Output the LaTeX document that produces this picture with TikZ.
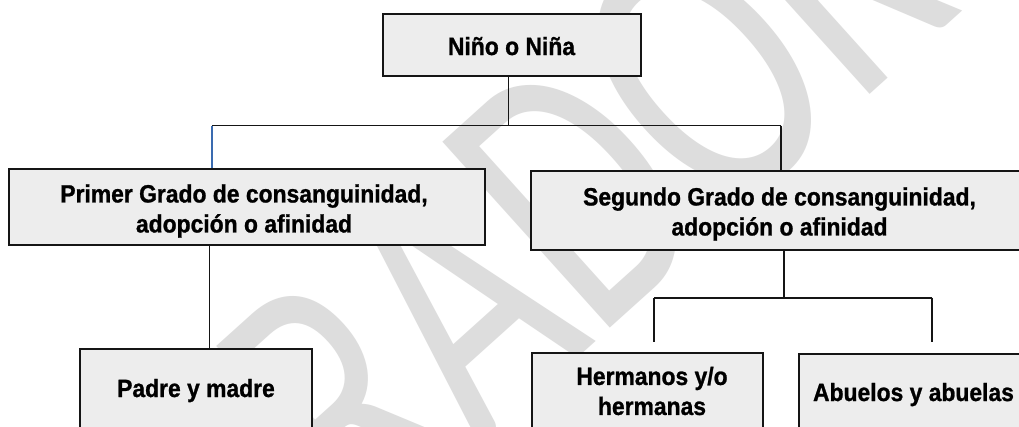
\documentclass[tikz,border=0pt]{standalone}
\usepackage{fontspec}
\setmainfont{Liberation Sans}[BoldFeatures={FakeStretch=0.915, FakeBold=1}]
\newfontfamily\wmfont{Carlito}[FakeStretch=0.7]
\definecolor{boxfill}{HTML}{EDEDED}
\definecolor{boxline}{HTML}{151515}
\definecolor{wmgray}{HTML}{DDDDDD}
\definecolor{bluelink}{HTML}{3A6BB0}
\tikzset{
  box/.style={draw=boxline, fill=boxfill, line width=1.8pt, rectangle, inner sep=0pt},
  lbl/.style={font=\fontsize{25}{30}\selectfont\bfseries, align=center, inner sep=0pt, text=black},
  conn/.style={draw=boxline, line width=1.7pt},
  connthin/.style={draw=boxline, line width=1pt},
}
\begin{document}
\begin{tikzpicture}[x=1pt,y=-1pt]
\useasboundingbox (0,0) rectangle (1019,426);
\clip (0,0) rectangle (1019,426);
\fill[white] (0,0) rectangle (1019,426);
% watermark
\node[text=wmgray, font=\wmfont\fontsize{390}{390}\selectfont, rotate=42, inner sep=0pt] (wm) at (406.5,343.7) {BORRADOR};
% junctions
\coordinate (j1) at (508.5,125.5);
\coordinate (jl) at (212,125.5);
\coordinate (jr) at (781,125.5);
\coordinate (pv) at (209.5,300);
\coordinate (j2) at (784,297.7);
\coordinate (hl) at (654,297.7);
\coordinate (hr) at (932,297.7);
\coordinate (hle) at (654,341.7);
\coordinate (hre) at (932,341.7);
% boxes
\node[box, minimum width=258pt, minimum height=62pt] (nino) at (512,45) {};
\node[box, minimum width=476pt, minimum height=76pt] (primer) at (247,207) {};
\node[box, minimum width=496pt, minimum height=79pt] (seg) at (779,210.5) {};
\node[box, minimum width=232pt, minimum height=100pt] (padre) at (196,399) {};
\node[box, minimum width=231pt, minimum height=100pt] (herm) at (647.5,403) {};
\node[box, minimum width=229pt, minimum height=100pt] (abu) at (913.5,404) {};
% connectors
\draw[connthin] (j1 |- nino.south) -- (j1);
\draw[conn] (jl) -- (jr);
\draw[conn, draw=bluelink] (jl) -- (jl |- primer.north);
\draw[conn] (jr) -- (jr |- seg.north);
\draw[conn] (pv |- primer.south) -- (pv |- padre.north);
\draw[conn] (j2 |- seg.south) -- (j2);
\draw[conn] (hl) -- (hr);
\draw[conn] (hl) -- (hle);
\draw[conn] (hr) -- (hre);
% labels
\node[lbl, anchor=base] (ninoT) at (511.5,55) {Niño o Niña};
\node[lbl] (primerT) at (244,211) {Primer Grado de consanguinidad,\\adopción o afinidad};
\node[lbl] (segT) at (779.5,214) {Segundo Grado de consanguinidad,\\adopción o afinidad};
\node[lbl, anchor=base] (padreT) at (196,397) {Padre y madre};
\node[lbl] (hermT) at (652,391) {Hermanos y/o\\hermanas};
\node[lbl, anchor=base] (abuT) at (913.5,401) {Abuelos y abuelas};
\end{tikzpicture}
\end{document}
